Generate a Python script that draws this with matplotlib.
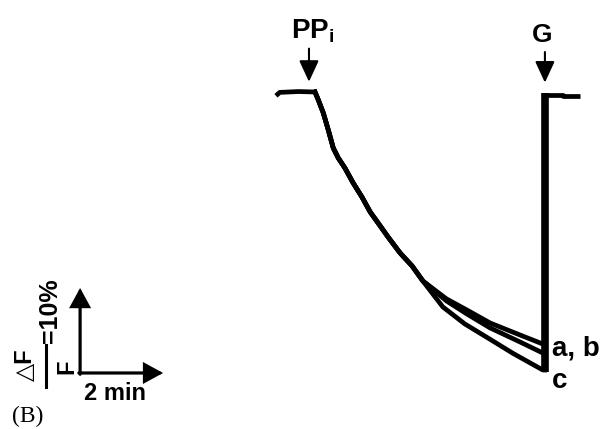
import numpy as np
import matplotlib
matplotlib.use("Agg")
import matplotlib.pyplot as plt
from matplotlib.lines import Line2D

plt.rcParams['font.family'] = ['Liberation Sans', 'DejaVu Sans']
plt.rcParams['mathtext.fontset'] = 'custom'
plt.rcParams['mathtext.rm'] = 'Liberation Sans'
plt.rcParams['mathtext.bf'] = 'Liberation Sans:bold'

# time (min, 0 = PPi addition) and dF/F (%)
t_pre = [-0.94, -0.85, -0.40, 0.0]
f_pre = [-0.45, -0.05, 0.05, 0.0]

t_common = [0.0, 0.08, 0.20, 0.32, 0.44, 0.56, 0.72, 0.92, 1.13, 1.33,
            1.52, 1.76, 2.05, 2.34, 2.60]
f_common = [0.0, -0.94, -2.47, -4.47, -6.59, -7.76, -8.94, -10.71, -12.35,
            -14.12, -15.41, -17.06, -18.94, -20.47, -22.24]

t_ab = [3.17, 3.66, 4.22, 4.94, 5.49]
f_a = [-24.35, -25.65, -27.18, -28.59, -29.65]
f_b = [-24.59, -26.12, -27.76, -29.41, -30.71]
t_c = [3.08, 3.61, 4.22, 4.77, 5.49]
f_c = [-25.29, -27.29, -29.10, -30.75, -32.71]

t_G = 5.54
t_post = [5.54, 5.98, 5.98, 6.39]
f_post = [-0.30, -0.30, -0.53, -0.53]

t_PPi = -0.145
scale_t, scale_f = 2, 10          # scale bar: 2 min, 10 %
scale_origin = (-5.66, -33.06)

fig = plt.figure(figsize=(6.09, 4.29), dpi=100)
ax = fig.add_axes([0, 0, 1, 1])
ax.set_xlim(-7.590, 7.084)
ax.set_ylim(-39.65, 10.82)
ax.axis('off')

lw = 3.4
ax.plot(t_pre, f_pre, color='black', lw=lw, solid_capstyle='butt')
for t_tail, f_tail in ((t_ab, f_a), (t_ab, f_b), (t_c, f_c)):
    ax.plot(t_common + t_tail + [t_G], f_common + f_tail + [f_tail[-1]],
            color='black', lw=lw, solid_joinstyle='round')
ends = [f_a[-1], f_b[-1], f_c[-1]]
ax.vlines(t_G, min(ends) - 0.2, f_post[0] + 0.2, color='black', lw=5.5)
ax.plot(t_post, f_post, color='black', lw=lw, solid_capstyle='butt')

# addition arrows
arrow = dict(arrowstyle='-|>,head_length=0.65,head_width=0.3', color='black',
             lw=1.5, shrinkA=0, shrinkB=0, mutation_scale=20)
ax.annotate('', xy=(t_PPi, 1.2), xytext=(t_PPi, 5.1), arrowprops=arrow)
ax.annotate('', xy=(t_G, 1.1), xytext=(t_G, 4.7), arrowprops=arrow)
ax.text(t_PPi + 0.09, 6.35, r'PP$_\mathregular{i}$', fontsize=20, fontweight='bold',
        ha='center', va='baseline')
ax.text(t_G - 0.07, 5.88, 'G', fontsize=19, fontweight='bold',
        ha='center', va='baseline')

ax.text(5.71, -31.06, 'a, b', fontsize=20, fontweight='bold', ha='left', va='baseline')
ax.text(5.71, -34.82, 'c', fontsize=20, fontweight='bold', ha='left', va='baseline')

# scale bar
x0, y0 = scale_origin
bar = dict(arrowstyle='-|>,head_length=0.55,head_width=0.3', color='black',
           lw=2.3, shrinkA=0, shrinkB=0, mutation_scale=20, joinstyle='miter')
ax.annotate('', xy=(x0 + scale_t, y0), xytext=(x0 - 0.03, y0), arrowprops=bar)
ax.annotate('', xy=(x0, y0 + scale_f), xytext=(x0, y0 - 0.15), arrowprops=bar)
ax.text(x0 + scale_t / 2 - 0.15, -36.24, '2 min', fontsize=17, fontweight='bold',
        ha='center', va='baseline')


def px(x, y):
    return x / 609, 1 - y / 429


fig.text(*px(25, 365), '\u25b3F', rotation=90, fontsize=17, fontweight='bold',
         ha='center', va='center')
fig.text(*px(67, 367), 'F', rotation=90, fontsize=17, fontweight='bold',
         ha='center', va='center')
fig.add_artist(Line2D([46 / 609, 46 / 609], [1 - 345 / 429, 1 - 387 / 429],
                      color='black', lw=2.2, transform=fig.transFigure))
fig.text(*px(50, 311), '=10%', rotation=90, fontsize=18, fontweight='bold',
         ha='center', va='center')

fig.text(*px(12, 422), '(B)', family='Liberation Serif', fontsize=17,
         ha='left', va='baseline')

fig.savefig('out.png', dpi=100)
